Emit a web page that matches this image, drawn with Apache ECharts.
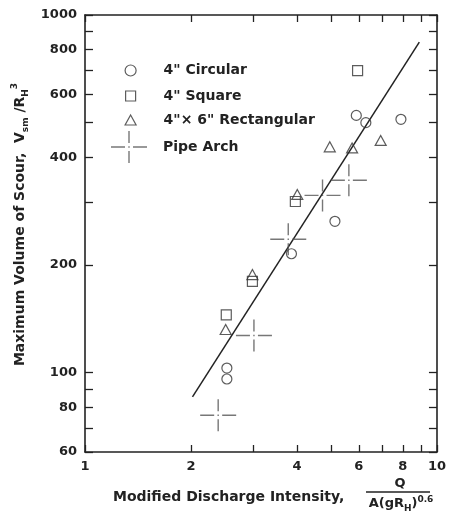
<!DOCTYPE html>
<html>
<head>
<meta charset="utf-8">
<script src="https://cdn.jsdelivr.net/npm/echarts@6/dist/echarts.min.js"></script>
<style>
html, body { margin: 0; padding: 0; background: #fff; }
#chart { width: 449px; height: 514px; }
</style>
</head>
<body>
<div id="chart"></div>
<script>
// scour volume vs modified discharge intensity (log-log)
var seriesNames = ['4" Circular', '4" Square', '4"\u00d7 6" Rectangular', 'Pipe Arch'];

var circularX = [2.53, 2.53, 3.86, 5.13, 5.9, 6.28, 7.9];
var circularY = [103, 96, 215, 265, 524, 500, 511];

var squareX = [2.52, 2.99, 3.96, 5.95];
var squareY = [145, 180, 301, 699];

var rectX = [2.51, 2.99, 4.01, 4.96, 5.74, 6.92];
var rectY = [132, 188, 315, 428, 425, 446];

var pipeX = [2.39, 3.02, 3.78, 4.73, 5.62];
var pipeY = [76, 127, 236, 313, 345];

var fitX = [2.02, 8.91];
var fitY = [85.6, 840];

var xTicks = [1, 2, 3, 4, 5, 6, 7, 8, 9, 10];
var xLabels = [1, 2, 4, 6, 8, 10];
var yTicks = [60, 70, 80, 90, 100, 200, 300, 400, 500, 600, 700, 800, 900, 1000];
var yLabels = [60, 80, 100, 200, 400, 600, 800, 1000];

function pairs(xs, ys) {
    var res = [];
    for (var i = 0; i < xs.length; i++) {
        res.push([xs[i], ys[i]]);
    }
    return res;
}

var font = 'DejaVu Sans';
var ink = '#222';
var pipePath = 'path://M0 15.3H14V16.7H0Z M22 15.3H36V16.7H22Z M17.3 0H18.7V12H17.3Z M17.3 20H18.7V32H17.3Z M17.3 15.3H18.7V16.7H17.3Z';

function plain(v) {
    return String(Math.round(v));
}

function axisX(pos, showLabel) {
    return {
        type: 'log',
        logBase: 10,
        min: 1,
        max: 10,
        position: pos,
        axisLine: { show: true, lineStyle: { color: ink, width: 1.6 } },
        axisTick: { show: true, inside: true, length: 7, customValues: xTicks, lineStyle: { color: ink, width: 1.3 } },
        axisLabel: {
            show: showLabel,
            customValues: xLabels,
            formatter: plain,
            margin: 8,
            color: ink,
            fontFamily: font,
            fontWeight: 'bold',
            fontSize: 13
        },
        splitLine: { show: false },
        minorTick: { show: false }
    };
}

function axisY(pos, showLabel) {
    return {
        type: 'log',
        logBase: 10,
        min: 60,
        max: 1000,
        position: pos,
        axisLine: { show: true, lineStyle: { color: ink, width: 1.6 } },
        axisTick: { show: true, inside: true, length: 8, customValues: yTicks, lineStyle: { color: ink, width: 1.3 } },
        axisLabel: {
            show: showLabel,
            customValues: yLabels,
            formatter: plain,
            margin: 8,
            color: ink,
            fontFamily: font,
            fontWeight: 'bold',
            fontSize: 13
        },
        splitLine: { show: false },
        minorTick: { show: false }
    };
}

var yLeft = axisY('left', true);
yLeft.name = '{t|Maximum Volume of Scour,  V}{sub|sm}{t| /R}{sub|H}{sup|3}';
yLeft.nameLocation = 'middle';
yLeft.nameGap = 43;
yLeft.nameTextStyle = {
    padding: [0, 0, 0, 18],
    rich: {
        t: { fontFamily: font, fontWeight: 'bold', fontSize: 14, color: ink, lineHeight: 17 },
        sub: { fontFamily: font, fontWeight: 'bold', fontSize: 9, color: ink, lineHeight: 20, verticalAlign: 'bottom' },
        sup: { fontFamily: font, fontWeight: 'bold', fontSize: 9, color: ink, lineHeight: 20, verticalAlign: 'top' }
    }
};

var hollow = { color: 'rgba(0,0,0,0)', borderColor: '#333', borderWidth: 1.2 };

// one legend box per entry, so each row can sit where the original has it
function legendRow(i, cx, cy, w, h, bw) {
    var textLeft = 163;
    return {
        data: [seriesNames[i]],
        left: cx - w / 2,
        top: cy - h / 2,
        padding: 0,
        align: 'left',
        itemWidth: w,
        itemHeight: h,
        itemStyle: { borderWidth: bw },
        selectedMode: false,
        textStyle: {
            fontFamily: font,
            fontWeight: 'bold',
            fontSize: 14,
            color: ink,
            padding: [0, 0, 0, textLeft - (cx + w / 2 + 5)]
        }
    };
}

var myChart = echarts.init(document.getElementById('chart'));
var option = {
    animation: false,
    backgroundColor: '#fff',
    grid: { left: 85, right: 6, top: 15, bottom: 62 },
    xAxis: [axisX('bottom', true), axisX('top', false)],
    yAxis: [yLeft, axisY('right', false)],
    legend: [
        legendRow(0, 130, 69, 11, 11, 1.2),
        legendRow(1, 130, 94, 10, 10, 1.2),
        legendRow(2, 130, 118, 11, 10, 1.2),
        legendRow(3, 129, 147, 36, 32, 0)
    ],
    graphic: [
        {
            type: 'text', x: 113, y: 497,
            style: { text: 'Modified Discharge Intensity,', font: 'bold 14px "DejaVu Sans"', fill: ink, verticalAlign: 'middle' }
        },
        {
            type: 'text', x: 400, y: 484,
            style: { text: 'Q', font: 'bold 13px "DejaVu Sans"', fill: ink, align: 'center', verticalAlign: 'middle' }
        },
        {
            type: 'line',
            shape: { x1: 366, y1: 492, x2: 430, y2: 492 },
            style: { stroke: ink, lineWidth: 1.3 }
        },
        {
            type: 'text', x: 401, y: 504,
            style: {
                text: '{t|A(gR}{sub|H}{t|)}{sup|0.6}',
                align: 'center',
                verticalAlign: 'middle',
                rich: {
                    t: { fontFamily: font, fontWeight: 'bold', fontSize: 13, fill: ink, lineHeight: 15 },
                    sub: { fontFamily: font, fontWeight: 'bold', fontSize: 9, fill: ink, lineHeight: 18, verticalAlign: 'bottom' },
                    sup: { fontFamily: font, fontWeight: 'bold', fontSize: 9, fill: ink, lineHeight: 18, verticalAlign: 'top' }
                }
            }
        }
    ],
    series: [
        {
            name: 'fit',
            type: 'line',
            data: pairs(fitX, fitY),
            symbol: 'none',
            lineStyle: { color: ink, width: 1.5 },
            silent: true,
            z: 1
        },
        {
            name: seriesNames[0],
            type: 'scatter',
            symbol: 'circle',
            symbolSize: 10,
            itemStyle: hollow,
            data: pairs(circularX, circularY)
        },
        {
            name: seriesNames[1],
            type: 'scatter',
            symbol: 'rect',
            symbolSize: 10,
            itemStyle: hollow,
            data: pairs(squareX, squareY)
        },
        {
            name: seriesNames[2],
            type: 'scatter',
            symbol: 'triangle',
            symbolSize: [11, 10],
            itemStyle: hollow,
            data: pairs(rectX, rectY)
        },
        {
            name: seriesNames[3],
            type: 'scatter',
            symbol: pipePath,
            symbolSize: [36, 32],
            itemStyle: { color: '#555', borderWidth: 0 },
            data: pairs(pipeX, pipeY)
        }
    ]
};
myChart.setOption(option);
</script>
</body>
</html>
